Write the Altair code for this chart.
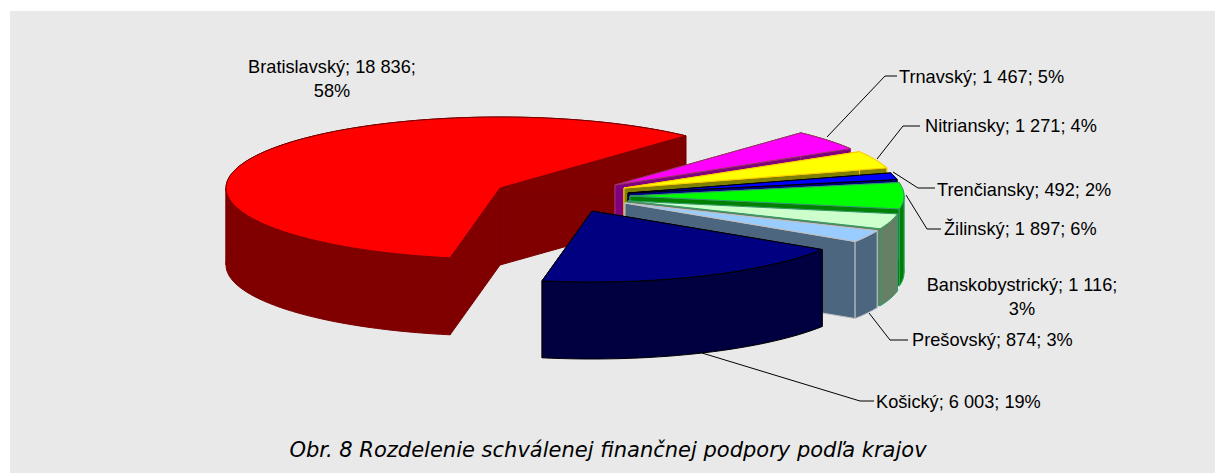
import math
import altair as alt
import pandas as pd

# --- data ---
regions = ["Bratislavský", "Trnavský", "Nitriansky", "Trenčiansky", "Žilinský",
           "Banskobystrický", "Prešovský", "Košický"]
values = [18836, 1467, 1271, 492, 1897, 1116, 874, 6003]
top_colors = ["#FF0000", "#FF00FF", "#FFFF00", "#0000FF", "#00FF00", "#CCFFCC", "#99CCFF", "#000080"]
wall_colors = ["#800000", "#800080", "#808000", "#000080", "#008000", "#668066", "#4D6680", "#000040"]
edge_colors = ["#7A0000", "#993366", "#FFCC00", "#000000", "#339966", "#339966", "#C0C0C0", "#000000"]
apex_x = [500, 615, 624, 628, 630, 628, 625, 592]
apex_y = [188, 185, 188, 193, 196, 201, 203, 211]

label_lines = ["Bratislavský; 18 836;", "58%", "Trnavský; 1 467; 5%", "Nitriansky; 1 271; 4%",
               "Trenčiansky; 492; 2%", "Žilinský; 1 897; 6%", "Banskobystrický; 1 116;", "3%",
               "Prešovský; 874; 3%", "Košický; 6 003; 19%"]
label_x = [332, 332, 899, 925, 937, 944, 1022, 1022, 912, 876]
label_y = [68, 92, 78, 127, 191, 230, 286, 310, 341, 403]
label_align = ["center", "center", "left", "left", "left", "left", "center", "center", "left", "left"]
title_text = "Obr. 8  Rozdelenie schválenej finančnej podpory podľa krajov"

leader_id = [0, 0, 0, 1, 1, 1, 2, 2, 2, 3, 3, 3, 4, 4, 4, 5, 5, 5]
leader_x = [827, 885, 897, 877, 903, 920, 893, 918, 935, 906, 927, 941, 869, 890, 908, 702, 860, 874]
leader_y = [137, 76, 76, 159, 126, 126, 172, 188, 188, 195, 229, 229, 313, 340, 340, 353, 401, 401]

# --- pie geometry derived from the values ---
RX, RY, DEPTH = 274, 71, 77
START = 190.5
total = sum(values)


def pt(cx, cy, deg):
    a = math.radians(deg)
    return [cx + RX * math.sin(a), cy - RY * math.cos(a)]


def poly(coords, fill, edge):
    ring = [list(c) for c in coords] + [list(coords[0])]
    return {"type": "Feature", "geometry": {"type": "Polygon", "coordinates": [ring]},
            "properties": {"fill": fill, "edge": edge}}


def arc_points(cx, cy, a0, a1):
    n = max(3, int((a1 - a0) / 2))
    return [pt(cx, cy, a0 + (a1 - a0) * i / n) for i in range(n + 1)]


faces = []
angle = START
for name, v, top, wall, edge, cx, cy in zip(regions, values, top_colors, wall_colors, edge_colors, apex_x, apex_y):
    a0, a1 = angle, angle + v / total * 360
    angle = a1
    arc = arc_points(cx, cy, a0, a1)
    c, cl = [cx, cy], [cx, cy + DEPTH]
    faces.append(poly([c, arc[0], [arc[0][0], arc[0][1] + DEPTH], cl], wall, edge))
    faces.append(poly([c, arc[-1], [arc[-1][0], arc[-1][1] + DEPTH], cl], wall, edge))
    # the curved wall is cut where the rim turns back, so that every piece is a simple band
    cuts = [a0] + [k for k in (90, 270, 450) if a0 < k < a1] + [a1]
    for s, e in zip(cuts, cuts[1:]):
        part = arc_points(cx, cy, s, e)
        faces.append(poly(part + [[x, y + DEPTH] for x, y in part[::-1]], wall, edge))
    faces.append(poly([c] + arc, top, edge))

X = alt.Scale(domain=[8, 1215], nice=False, zero=False)
Y = alt.Scale(domain=[473, 8], nice=False, zero=False)

panel = alt.Chart(pd.DataFrame({"x": [10], "x2": [1215], "y": [11], "y2": [473]})).mark_rect(color="#E9E9E9").encode(
    x=alt.X("x:Q", scale=X, axis=None), x2="x2:Q",
    y=alt.Y("y:Q", scale=Y, axis=None), y2="y2:Q")

pie = alt.Chart(alt.Data(values=faces)).mark_geoshape(strokeWidth=1, strokeJoin="round").encode(
    fill=alt.Fill("properties.fill:N", scale=None, legend=None),
    stroke=alt.Stroke("properties.edge:N", scale=None, legend=None),
).project(type="identity", scale=1, translate=[-8, -8])

leaders = alt.Chart(pd.DataFrame({"id": leader_id, "x": leader_x, "y": leader_y})).mark_line(
    color="#000000", strokeWidth=1).encode(
    x=alt.X("x:Q", scale=X, axis=None), y=alt.Y("y:Q", scale=Y, axis=None), detail="id:N", order=alt.Order(value=0))

labels_df = pd.DataFrame({"t": label_lines, "x": label_x, "y": label_y, "a": label_align})
text_layers = []
for al in ["left", "center"]:
    text_layers.append(alt.Chart(labels_df[labels_df.a == al]).mark_text(
        font="Liberation Sans", fontSize=18.2, align=al, baseline="middle", color="#000000").encode(
        x=alt.X("x:Q", scale=X, axis=None), y=alt.Y("y:Q", scale=Y, axis=None), text="t:N"))

title = alt.Chart(pd.DataFrame({"t": [title_text], "x": [608], "y": [451]})).mark_text(
    font="DejaVu Sans", fontSize=21, fontStyle="italic", align="center", baseline="middle",
    color="#000000").encode(
    x=alt.X("x:Q", scale=X, axis=None), y=alt.Y("y:Q", scale=Y, axis=None), text="t:N")

chart = alt.layer(panel, pie, leaders, *text_layers, title).properties(
    width=1207, height=465, padding=0, background="#FFFFFF",
).configure_view(stroke=None)

chart.save("out.html", embed_options={"renderer": "svg", "actions": False})
